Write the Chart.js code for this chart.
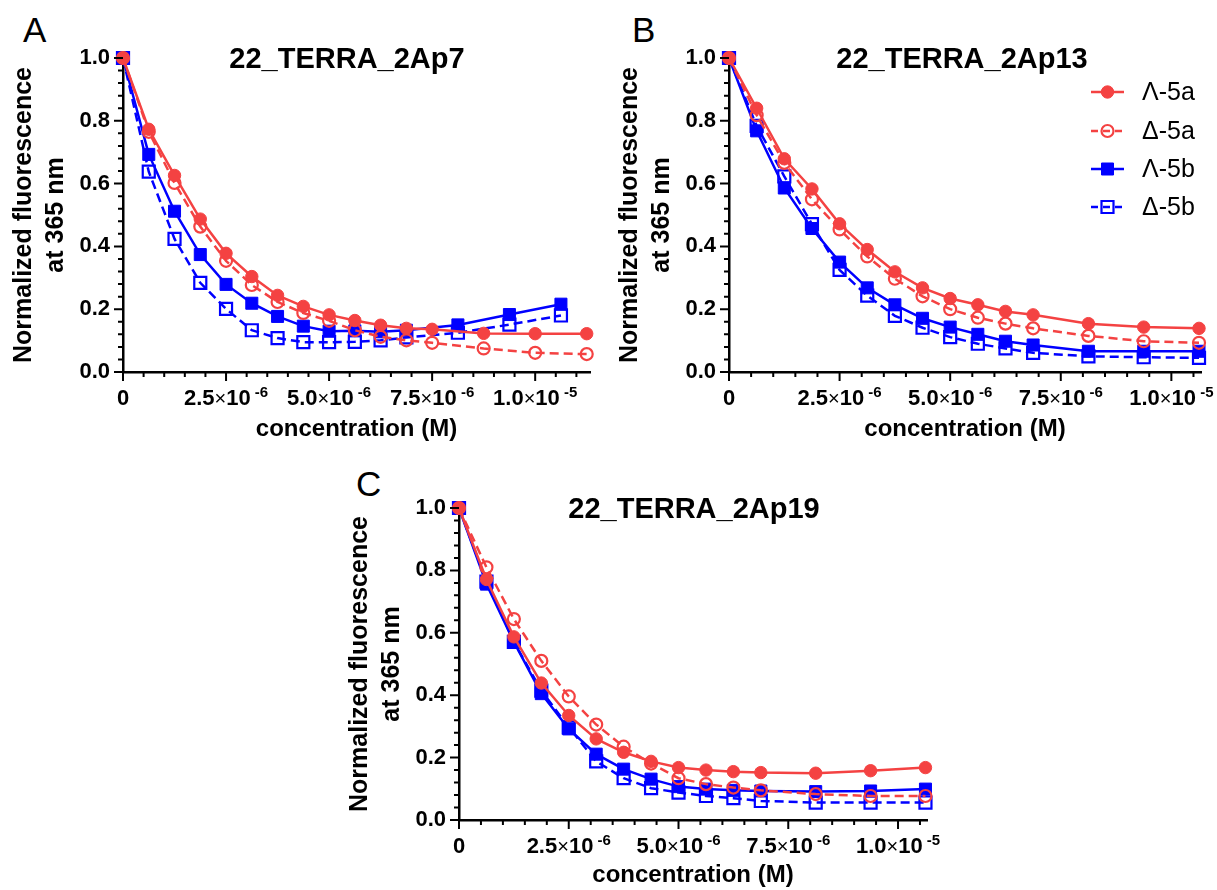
<!DOCTYPE html>
<html>
<head>
<meta charset="utf-8">
<script src="https://cdn.jsdelivr.net/npm/chart.js@4"></script>
<style>
  body { margin: 0; background: #fff; }
  #page { position: relative; width: 1217px; height: 890px; overflow: hidden; font-family: 'Liberation Sans', Arial, sans-serif; }
  canvas { position: absolute; }
  .tag { position: absolute; font-size: 35px; line-height: 35px; color: #000; }
</style>
</head>
<body>
<div id="page">
  <div class="tag" style="left:23px;top:12px">A</div>
  <div class="tag" style="left:632px;top:12px">B</div>
  <div class="tag" style="left:356px;top:466px">C</div>
  <canvas id="chartA" width="608" height="450" style="left:0;top:0"></canvas>
  <canvas id="chartB" width="611" height="450" style="left:606px;top:0"></canvas>
  <canvas id="chartC" width="613" height="440" style="left:336px;top:450px"></canvas>
</div>
<script>
const FONT = "'Liberation Sans', Arial, Helvetica, sans-serif";
const RED = '#F44242';
const BLUE = '#0000FF';

// concentrations, in µM (converted to M when plotted)
const concA_5a = [0, 0.625, 1.25, 1.875, 2.5, 3.125, 3.75, 4.375, 5, 5.625, 6.25, 6.875, 7.5, 8.75, 10, 11.25];
const concA_5b = [0, 0.625, 1.25, 1.875, 2.5, 3.125, 3.75, 4.375, 5, 5.625, 6.25, 6.875, 8.125, 9.375, 10.625];
const concBC = [0, 0.625, 1.25, 1.875, 2.5, 3.125, 3.75, 4.375, 5, 5.625, 6.25, 6.875, 8.125, 9.375, 10.625];

const seriesNames = ['Λ-5a', 'Δ-5a', 'Λ-5b', 'Δ-5b'];

// 22_TERRA_2Ap7
const lam5a_A = [1.0, 0.773, 0.626, 0.487, 0.378, 0.304, 0.244, 0.209, 0.182, 0.164, 0.149, 0.139, 0.136, 0.123, 0.122, 0.122];
const del5a_A = [1.0, 0.765, 0.602, 0.463, 0.354, 0.277, 0.223, 0.188, 0.163, 0.133, 0.112, 0.101, 0.093, 0.075, 0.061, 0.057];
const lam5b_A = [1.0, 0.693, 0.512, 0.374, 0.279, 0.219, 0.177, 0.146, 0.130, 0.131, 0.128, 0.133, 0.150, 0.183, 0.216];
const del5b_A = [1.0, 0.638, 0.424, 0.284, 0.201, 0.133, 0.108, 0.095, 0.095, 0.096, 0.101, 0.110, 0.125, 0.151, 0.180];

// 22_TERRA_2Ap13
const lam5a_B = [1.0, 0.840, 0.679, 0.583, 0.472, 0.390, 0.319, 0.268, 0.234, 0.214, 0.193, 0.182, 0.154, 0.143, 0.139];
const del5a_B = [1.0, 0.818, 0.666, 0.550, 0.454, 0.368, 0.297, 0.241, 0.200, 0.173, 0.154, 0.139, 0.115, 0.098, 0.093];
const lam5b_B = [1.0, 0.768, 0.586, 0.457, 0.350, 0.268, 0.214, 0.171, 0.143, 0.120, 0.098, 0.086, 0.066, 0.066, 0.066];
const del5b_B = [1.0, 0.784, 0.623, 0.471, 0.325, 0.243, 0.179, 0.141, 0.111, 0.090, 0.075, 0.061, 0.050, 0.047, 0.045];

// 22_TERRA_2Ap19
const lam5a_C = [1.0, 0.771, 0.587, 0.439, 0.335, 0.260, 0.217, 0.188, 0.168, 0.160, 0.155, 0.152, 0.150, 0.158, 0.168];
const del5a_C = [1.0, 0.810, 0.644, 0.510, 0.396, 0.306, 0.235, 0.181, 0.134, 0.115, 0.104, 0.095, 0.083, 0.077, 0.077];
const lam5b_C = [1.0, 0.756, 0.571, 0.405, 0.292, 0.211, 0.163, 0.131, 0.107, 0.099, 0.095, 0.093, 0.091, 0.093, 0.099];
const del5b_C = [1.0, 0.764, 0.571, 0.415, 0.297, 0.188, 0.134, 0.102, 0.088, 0.077, 0.070, 0.061, 0.056, 0.056, 0.056];

const yTicks = [0, 0.2, 0.4, 0.6, 0.8, 1.0];

const styles = [
  {color: RED, filled: true, shape: 'circle', dashed: false},
  {color: RED, filled: false, shape: 'circle', dashed: true},
  {color: BLUE, filled: true, shape: 'rect', dashed: false},
  {color: BLUE, filled: false, shape: 'rect', dashed: true}
];

function makeSeries(i, conc, vals) {
  const s = styles[i];
  return {
    label: seriesNames[i],
    data: conc.map((c, k) => ({x: c * 1e-6, y: vals[k]})),
    borderColor: s.color,
    backgroundColor: s.color,
    borderWidth: 2.5,
    borderDash: s.dashed ? [9, 5] : [],
    pointStyle: s.shape,
    pointRadius: s.shape === 'rect' ? 8.5 : (s.filled ? 6.2 : 6),
    pointBackgroundColor: s.filled ? s.color : 'rgba(0,0,0,0)',
    pointBorderColor: s.color,
    pointBorderWidth: s.filled ? 1 : 2.2,
    tension: 0,
    fill: false,
    clip: false
  };
}

function drawMarker(ctx, st, x, y) {
  ctx.save();
  ctx.strokeStyle = st.color;
  ctx.fillStyle = st.color;
  ctx.beginPath();
  if (st.shape === 'circle') {
    ctx.arc(x, y, st.filled ? 6.2 : 6, 0, Math.PI * 2);
  } else {
    ctx.rect(x - 6, y - 6, 12, 12);
  }
  ctx.lineWidth = st.filled ? 1 : 2.2;
  if (st.filled) ctx.fill();
  ctx.stroke();
  ctx.restore();
}

function drawXLabel(ctx, v, px, baseY) {
  ctx.textAlign = 'left';
  ctx.textBaseline = 'alphabetic';
  ctx.fillStyle = '#000';
  if (v === 0) {
    ctx.font = 'bold 22px ' + FONT;
    const w = ctx.measureText('0').width;
    ctx.fillText('0', px - w / 2, baseY);
    return;
  }
  const exp = Math.floor(Math.log10(v) + 1e-9);
  const mant = (v / Math.pow(10, exp)).toFixed(1);
  const parts = [
    {t: mant, f: 'bold 22px ' + FONT, dy: 0},
    {t: '×', f: '20px ' + FONT, dy: 0},
    {t: '10', f: 'bold 22px ' + FONT, dy: 0},
    {t: ' ' + String(exp), f: 'bold 15px ' + FONT, dy: -8}
  ];
  let total = 0;
  parts.forEach(p => { ctx.font = p.f; p.w = ctx.measureText(p.t).width; total += p.w; });
  let x = px - total / 2;
  parts.forEach(p => { ctx.font = p.f; ctx.fillText(p.t, x, baseY + p.dy); x += p.w; });
}

const prismPlugin = {
  id: 'prism',
  afterDraw(chart, args, opts) {
    const ctx = chart.ctx;
    const xs = chart.scales.x, ys = chart.scales.y, area = chart.chartArea;
    ctx.save();
    ctx.strokeStyle = '#000';
    ctx.lineWidth = 2;
    ctx.beginPath();
    // y ticks: major 0.2, minor 0.04
    for (let i = 0; i <= 25; i++) {
      const py = ys.getPixelForValue(i * 0.04);
      const len = i % 5 === 0 ? 9 : 5;
      ctx.moveTo(area.left, py);
      ctx.lineTo(area.left - len, py);
    }
    // x ticks: major 2.5e-6, minor 0.5e-6
    for (let i = 0; i * 0.5 <= xs.max * 1e6 + 1e-9; i++) {
      const px = xs.getPixelForValue(i * 0.5e-6);
      const len = i % 5 === 0 ? 9 : 5;
      ctx.moveTo(px, area.bottom);
      ctx.lineTo(px, area.bottom + len);
    }
    ctx.stroke();
    for (let k = 0; k * 2.5 <= xs.max * 1e6 + 1e-9; k++) {
      const v = k * 2.5e-6;
      drawXLabel(ctx, k === 0 ? 0 : v, xs.getPixelForValue(v), area.bottom + opts.labelDy);
    }
    // panel title
    ctx.font = 'bold 29px ' + FONT;
    ctx.textAlign = 'center';
    ctx.textBaseline = 'alphabetic';
    ctx.fillStyle = '#000';
    ctx.fillText(opts.title, area.left + opts.titleDx, area.top + 10);
    // legend
    if (opts.legend) {
      const rows = [34, 73, 111, 149];
      chart.data.datasets.forEach((ds, i) => {
        const st = styles[i];
        const y = area.top + rows[i];
        const x0 = area.right - 110, x1 = area.right - 77;
        ctx.save();
        ctx.strokeStyle = st.color;
        ctx.lineWidth = 2.5;
        ctx.setLineDash(st.dashed ? [7, 5] : []);
        ctx.beginPath();
        ctx.moveTo(x0, y);
        ctx.lineTo(x1, y);
        ctx.stroke();
        ctx.restore();
        drawMarker(ctx, st, (x0 + x1) / 2, y);
        ctx.font = '25px ' + FONT;
        ctx.textAlign = 'left';
        ctx.textBaseline = 'middle';
        ctx.fillStyle = '#000';
        ctx.fillText(ds.label, area.right - 59, y + 1);
      });
    }
    ctx.restore();
  }
};

function makeChart(id, cfg) {
  return new Chart(document.getElementById(id), {
    type: 'line',
    data: {datasets: cfg.datasets},
    options: {
      responsive: false,
      animation: false,
      events: [],
      layout: {padding: {left: 0, top: 58, right: cfg.padRight, bottom: 0}},
      plugins: {
        legend: {display: false},
        tooltip: {enabled: false},
        prism: {title: cfg.title, titleDx: cfg.titleDx, labelDy: cfg.labelDy, legend: cfg.legend}
      },
      scales: {
        x: {
          type: 'linear', min: 0, max: cfg.xMax,
          grid: {display: false, drawTicks: false},
          border: {display: true, color: '#000', width: 2.5},
          ticks: {display: false},
          title: {display: true, text: 'concentration (M)', color: '#000',
                  font: {family: FONT, size: 24, weight: 'bold'},
                  padding: {top: 0, bottom: cfg.xTitlePad}},
          afterFit: s => { s.height = cfg.xAxisHeight; }
        },
        y: {
          min: 0, max: 1,
          grid: {display: false, drawTicks: false},
          border: {display: true, color: '#000', width: 2.5},
          afterBuildTicks: s => { s.ticks = yTicks.map(v => ({value: v})); },
          ticks: {padding: 13, color: '#000', font: {family: FONT, size: 22, weight: 'bold'},
                  callback: v => Number(v).toFixed(1)},
          title: {display: true, text: ['Normalized fluorescence', 'at 365 nm'], color: '#000',
                  font: {family: FONT, size: 25, weight: 'bold', lineHeight: 1.28},
                  padding: {top: 8, bottom: 0}},
          afterFit: s => { s.width = 123; }
        }
      }
    },
    plugins: [prismPlugin]
  });
}

makeChart('chartA', {
  title: '22_TERRA_2Ap7', titleDx: 224, labelDy: 33, legend: false,
  padRight: 18, xMax: 1.133e-5, xAxisHeight: 78, xTitlePad: 6,
  datasets: [makeSeries(0, concA_5a, lam5a_A), makeSeries(1, concA_5a, del5a_A),
             makeSeries(2, concA_5b, lam5b_A), makeSeries(3, concA_5b, del5b_A)]
});

makeChart('chartB', {
  title: '22_TERRA_2Ap13', titleDx: 233, labelDy: 33, legend: true,
  padRight: 16, xMax: 1.067e-5, xAxisHeight: 78, xTitlePad: 6,
  datasets: [makeSeries(0, concBC, lam5a_B), makeSeries(1, concBC, del5a_B),
             makeSeries(2, concBC, lam5b_B), makeSeries(3, concBC, del5b_B)]
});

makeChart('chartC', {
  title: '22_TERRA_2Ap19', titleDx: 235, labelDy: 33, legend: false,
  padRight: 22, xMax: 1.066e-5, xAxisHeight: 70, xTitlePad: 0,
  datasets: [makeSeries(0, concBC, lam5a_C), makeSeries(1, concBC, del5a_C),
             makeSeries(2, concBC, lam5b_C), makeSeries(3, concBC, del5b_C)]
});
</script>
</body>
</html>
